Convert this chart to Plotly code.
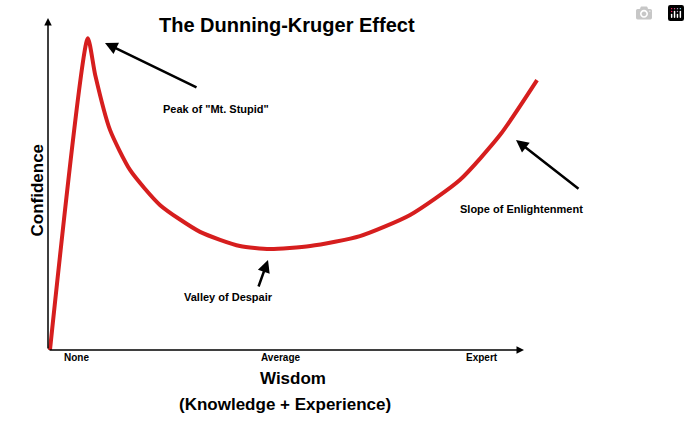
import plotly.graph_objects as go

knowledge = [0.4, 8.1, 9.6, 12.6, 16.7, 22.8, 30.9, 39.0, 45.1, 53.3, 63.4, 73.6, 83.7, 91.9, 99.4]
confidence = [0, 94.5, 83.3, 66.7, 54.5, 43.9, 35.8, 31.5, 30.6, 31.5, 34.5, 40.9, 51.5, 65.2, 81.8]
tick_labels = ["None", "Average", "Expert"]
tick_pos = [2.8, 47.4, 91.9]

L, T, W, H = 48, 20, 492, 330
def dx(px): return (px - L) / W
def dy(py): return (T + H - py) / H

fig = go.Figure()
fig.add_trace(go.Scatter(x=knowledge, y=confidence, mode="lines",
                         line=dict(color="#d61e1e", width=4, shape="spline", smoothing=0.6),
                         hoverinfo="skip", cliponaxis=False))
ann = []
def arrow(hx, hy, tx, ty, w=2.5, head=2):
    ann.append(dict(x=dx(hx), y=dy(hy), ax=tx - hx, ay=ty - hy, text="", showarrow=True,
                    arrowhead=head, arrowwidth=w, arrowsize=1, arrowcolor="black",
                    xref="paper", yref="paper"))
def text(s, px, py, size=11, angle=0):
    ann.append(dict(x=dx(px), y=dy(py), text="<b>%s</b>" % s, showarrow=False, textangle=angle,
                    font=dict(family="Arial", size=size, color="black"),
                    xref="paper", yref="paper"))
arrow(48, 18, 48, 350, w=1.5)
arrow(524, 350, 48, 350, w=1.5)
arrow(105, 43, 198, 88)
arrow(268, 260, 258, 288)
arrow(516, 140, 580, 190)
text('Peak of "Mt. Stupid"', 216, 101)
text("Valley of Despair", 228, 305)
text("Slope of Enlightenment", 585, 209)
for lab, p in zip(tick_labels, tick_pos):
    ann.append(dict(x=p / 100, y=dy(365), text="<b>%s</b>" % lab, showarrow=False,
                    font=dict(family="Arial", size=10, color="black"),
                    xref="paper", yref="paper"))
text("The Dunning-Kruger Effect", 287, 12, size=20)
text("Confidence", 25, 190, size=17, angle=-90)
text("Wisdom", 293, 390, size=17)
text("(Knowledge + Experience)", 285, 416, size=17)

fig.update_layout(width=690, height=427, margin=dict(l=L, r=690 - L - W, t=T, b=427 - T - H),
                  paper_bgcolor="white", plot_bgcolor="white", showlegend=False,
                  annotations=ann,
                  xaxis=dict(range=[0, 100], visible=False, fixedrange=True),
                  yaxis=dict(range=[0, 100], visible=False, fixedrange=True))
fig.write_html("out.html")
with open("out.html") as f:
    html = f.read()
html = html.replace("<body>", '<body style="margin:0;overflow:hidden">', 1)
with open("out.html", "w") as f:
    f.write(html)
